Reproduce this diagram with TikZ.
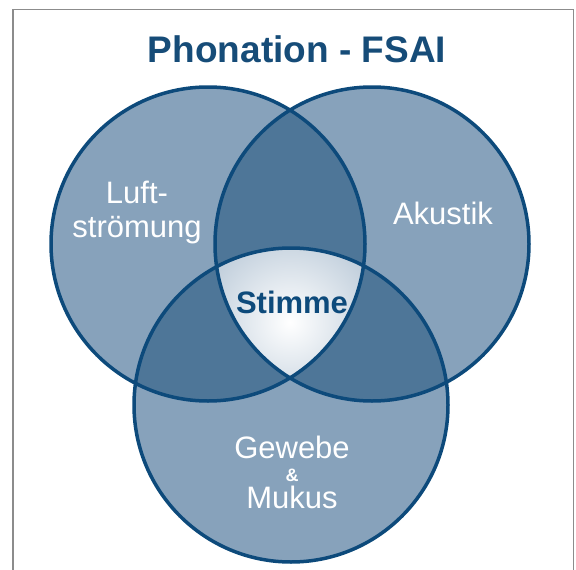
\documentclass[tikz,border=0pt]{standalone}
\usepackage{fontspec}
\setmainfont{Liberation Sans}
\begin{document}
\begin{tikzpicture}[x=1pt,y=-1pt,
  lbl/.style={anchor=base,inner sep=0pt,text=white,font=\fontsize{31}{34}\selectfont},
  stimmelbl/.style={anchor=base,inner sep=0pt,text=navy,font=\bfseries\fontsize{31}{34}\selectfont},
  amplbl/.style={anchor=base,inner sep=0pt,text=white,font=\bfseries\fontsize{18}{19}\selectfont},
  titlelbl/.style={anchor=base,inner sep=0pt,text=titlec,font=\bfseries\fontsize{37}{40}\selectfont},
  ring/.style={draw=navy,line width=3.5pt}]
\definecolor{navy}{HTML}{0D4A7B}
\definecolor{lightc}{HTML}{87A2BB}
\definecolor{darkc}{HTML}{4E7698}
\definecolor{titlec}{HTML}{164C78}
\definecolor{framec}{HTML}{8C8C8C}
\definecolor{centerout}{HTML}{8EA7BF}
\useasboundingbox (0,0) rectangle (576,570);
\fill[white] (0,0) rectangle (576,570);
\draw[framec,line width=1.5pt] (13,575) -- (13,9.5) -- (573.5,9.5) -- (573.5,575);
\coordinate (L) at (208,244);
\coordinate (R) at (372,244);
\coordinate (B) at (291,405);
% base fills
\fill[lightc] (L) circle (157pt);
\fill[lightc] (R) circle (157pt);
\fill[lightc] (B) circle (157pt);
% pairwise overlaps
\begin{scope}
  \clip (L) circle (157pt);
  \fill[darkc] (R) circle (157pt);
  \fill[darkc] (B) circle (157pt);
\end{scope}
\begin{scope}
  \clip (R) circle (157pt);
  \fill[darkc] (B) circle (157pt);
\end{scope}
% triple overlap
\begin{scope}
  \clip (L) circle (157pt);
  \clip (R) circle (157pt);
  \clip (B) circle (157pt);
  \fill[centerout] (150,200) rectangle (430,400);
  \shade[inner color=white,outer color=centerout] (290,322) circle (165pt);
\end{scope}
% outlines
\draw[ring] (L) circle (157pt);
\draw[ring] (R) circle (157pt);
\draw[ring] (B) circle (157pt);
% texts
\node[titlelbl] (title) at (297,62.5) {Phonation - FSAI};
\node[lbl] (luft) at (137,203) {Luft-};
\node[lbl] (stroem) at (137,237) {strömung};
\node[lbl] (akustik) at (443,224) {Akustik};
\node[stimmelbl] (stimme) at (292,313) {Stimme};
\node[lbl] (gewebe) at (292,458) {Gewebe};
\node[amplbl] (amp) at (292,481) {\&};
\node[lbl] (mukus) at (292,508) {Mukus};
\end{tikzpicture}
\end{document}
